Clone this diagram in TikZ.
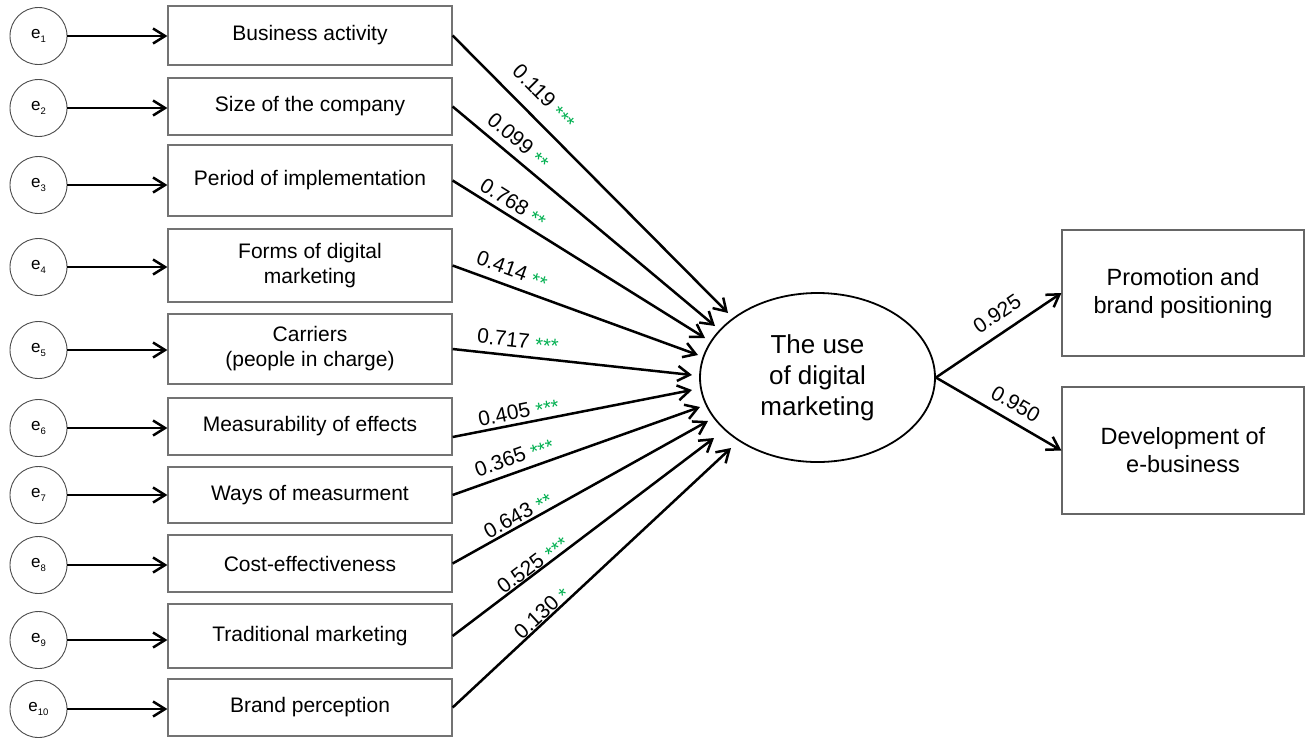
\documentclass[tikz,border=0pt]{standalone}
\usepackage{fontspec}
\setmainfont{Liberation Sans}
\usetikzlibrary{arrows.meta,shapes.geometric}
\definecolor{starg}{HTML}{00B050}
\newcommand{\st}[1]{\textcolor{starg}{\raisebox{-2pt}[0pt][0pt]{\fontsize{20}{22}\selectfont #1}}}
\newcommand{\esub}[1]{e\raisebox{-4pt}{\fontsize{9.5}{10}\selectfont #1}}
\begin{document}
\begin{tikzpicture}[x=1pt,y=-1pt,
 ecirc/.style={circle, draw=black!70, line width=0.9pt, minimum size=57pt, inner sep=0pt, font=\fontsize{17}{18}\selectfont},
 vbox/.style={rectangle, draw=black!55, line width=1.2pt, minimum width=284pt, inner sep=0pt, align=center, font=\fontsize{21}{25}\selectfont},
 obox/.style={rectangle, draw=black!60, line width=1.2pt, minimum width=242pt, inner sep=0pt, align=center, font=\fontsize{23.5}{28}\selectfont},
 latent/.style={ellipse, draw, line width=1.8pt, minimum width=235pt, minimum height=169pt, inner sep=0pt, align=center, font=\fontsize{26}{31}\selectfont},
 arr/.style={line width=2.5pt, -{Straight Barb[length=12pt,width=15pt]}},
 lab/.style={sloped, anchor=south, inner xsep=0pt, font=\fontsize{21}{25}\selectfont},
]
\fill[white] (0,0) rectangle (1311,740);
\useasboundingbox (0,0) rectangle (1311,740);

\node[ecirc] (e1) at (38.5,36) {\esub{1}};
\node[ecirc] (e2) at (38.5,108) {\esub{2}};
\node[ecirc] (e3) at (38.5,185) {\esub{3}};
\node[ecirc] (e4) at (38.5,267) {\esub{4}};
\node[ecirc] (e5) at (38.5,350) {\esub{5}};
\node[ecirc] (e6) at (38.5,428) {\esub{6}};
\node[ecirc] (e7) at (38.5,495) {\esub{7}};
\node[ecirc] (e8) at (38.5,565) {\esub{8}};
\node[ecirc] (e9) at (38.5,640) {\esub{9}};
\node[ecirc] (e10) at (38.5,709) {\esub{10}};

\node[vbox, minimum height=59pt] (b1) at (310,35.5) {Business activity};
\node[vbox, minimum height=57pt] (b2) at (310,106.5) {Size of the company};
\node[vbox, minimum height=71pt] (b3) at (310,180.5) {Period of implementation};
\node[vbox, minimum height=73pt] (b4) at (310,265.5) {Forms of digital\\marketing};
\node[vbox, minimum height=70pt] (b5) at (310,349) {Carriers\\(people in charge)};
\node[vbox, minimum height=57pt] (b6) at (310,426.5) {Measurability of effects};
\node[vbox, minimum height=56pt] (b7) at (310,495) {Ways of measurment};
\node[vbox, minimum height=57pt] (b8) at (310,563.5) {Cost-effectiveness};
\node[vbox, minimum height=64pt] (b9) at (310,636) {Traditional marketing};
\node[vbox, minimum height=57pt] (b10) at (310,707.5) {Brand perception};

\node[latent] (dm) at (817.5,377.5) {The use\\of digital\\marketing};
\node[obox, minimum height=126pt] (pb) at (1183,293) {Promotion and\\brand positioning};
\node[obox, minimum height=127pt] (db) at (1183,450.5) {Development of\\e-business};

\coordinate (t1) at (728,313);
\coordinate (t2) at (715,326);
\coordinate (t3) at (705,338);
\coordinate (t4) at (698,355);
\coordinate (t5) at (692,375);
\coordinate (t6) at (692,390);
\coordinate (t7) at (700,407);
\coordinate (t8) at (708,421);
\coordinate (t9) at (714,438);
\coordinate (t10) at (731,448);

\foreach \i in {1,...,10}{
  \draw[arr] (e\i.east) -- (e\i.east -| b\i.west);
}

\draw[arr] (b1.east) -- node[lab, pos=0.276, inner ysep=13.8pt] {0.119 \st{***}} (t1);
\draw[arr] (b2.east) -- node[lab, pos=0.212, inner ysep=7.8pt] {0.099 \st{**}} (t2);
\draw[arr] (b3.east) -- node[lab, pos=0.213, inner ysep=5pt] {0.768 \st{**}} (t3);
\draw[arr] (b4.east) -- node[lab, pos=0.22, inner ysep=7.8pt] {0.414 \st{**}} (t4);
\draw[arr] (b5.east) -- node[lab, pos=0.266, inner ysep=7.2pt] {0.717 \st{***}} (t5);
\draw[arr] ([yshift=-10.5pt]b6.east) -- node[lab, pos=0.285, inner ysep=3.6pt] {0.405 \st{***}} (t6);
\draw[arr] (b7.east) -- node[lab, pos=0.269, inner ysep=6.6pt] {0.365 \st{***}} (t7);
\draw[arr] (b8.east) -- node[lab, pos=0.275, inner ysep=2pt] {0.643 \st{**}} (t8);
\draw[arr] (b9.east) -- node[lab, pos=0.325, inner ysep=0.4pt] {0.525 \st{***}} (t9);
\draw[arr] (b10.east) -- node[lab, pos=0.34, inner ysep=0pt] {0.130 \st{*}} (t10);

\draw[arr] (dm.east) -- node[lab, pos=0.57, inner ysep=10pt] {0.925} (pb.west);
\draw[arr] (dm.east) -- node[lab, pos=0.567, inner ysep=8.5pt] {0.950} (db.west);
\end{tikzpicture}
\end{document}
